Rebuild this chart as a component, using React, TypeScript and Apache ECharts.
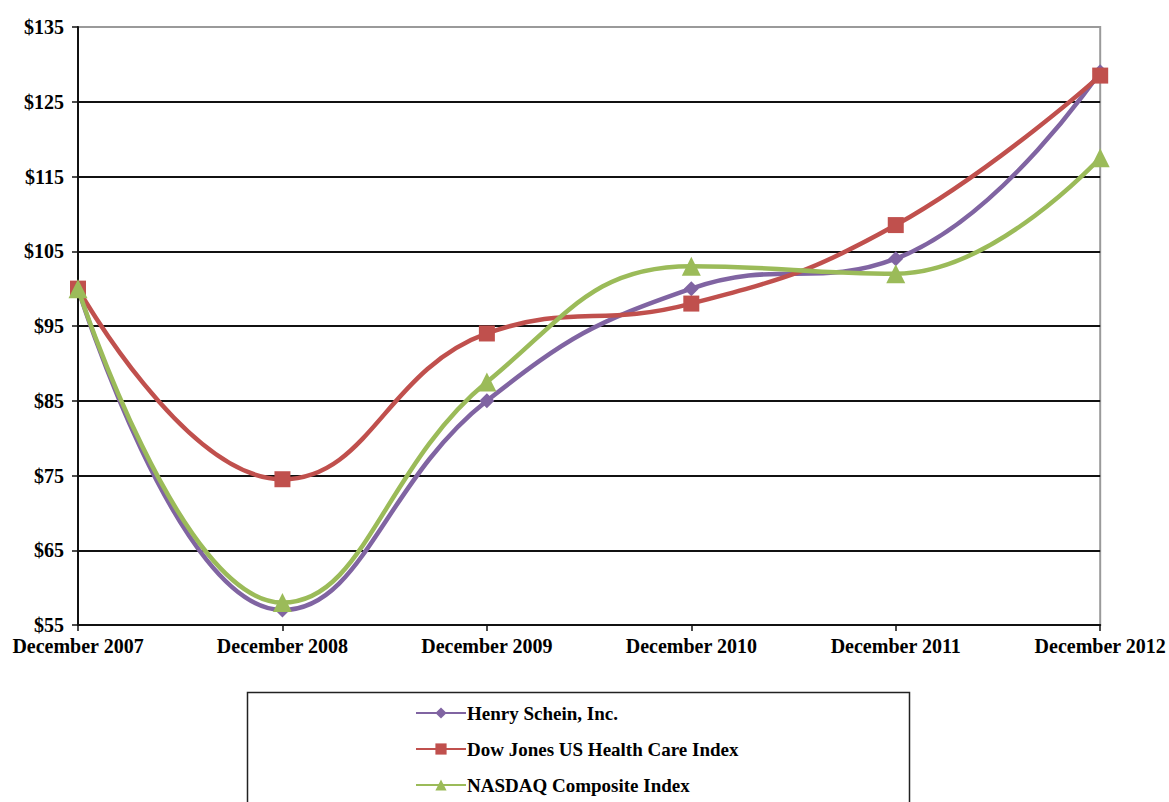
import React, { useEffect, useRef } from "react";
import * as echarts from "echarts";

const categories = ["December 2007", "December 2008", "December 2009", "December 2010", "December 2011", "December 2012"];
const henrySchein = [100, 57, 85, 100, 104, 129];
const dowJones = [100, 74.5, 94, 98, 108.5, 128.5];
const nasdaq = [100, 58, 87.5, 103, 102, 117.5];
const yTicks = [55, 65, 75, 85, 95, 105, 115, 125, 135];

const FONT = "'Liberation Serif', 'Times New Roman', serif";

export default function App() {
  const ref = useRef<HTMLDivElement>(null);
  useEffect(() => {
    if (!ref.current) return;
    const chart = echarts.init(ref.current, undefined, { renderer: "svg" });
    const mk = (name: string, data: number[], color: string, symbol: string, size: number) => ({
      name,
      type: "line",
      data,
      smooth: 0.45,
      symbol,
      symbolSize: size,
      showSymbol: true,
      lineStyle: { color, width: 4.5 },
      itemStyle: { color },
    });
    chart.setOption({
      animation: false,
      backgroundColor: "#fff",
      grid: {
        left: 78,
        right: 66,
        top: 27,
        bottom: 177,
        show: true,
        borderColor: "#9a9a9a",
        borderWidth: 2,
        backgroundColor: "transparent",
      },
      xAxis: {
        type: "category",
        data: categories,
        boundaryGap: false,
        axisLine: { lineStyle: { color: "#111", width: 2 } },
        axisTick: { show: true, length: 6, lineStyle: { color: "#111", width: 1.5 } },
        axisLabel: {
          color: "#000",
          fontFamily: FONT,
          fontWeight: "bold",
          fontSize: 20,
          margin: 11,
          interval: 0,
        },
        splitLine: { show: false },
      },
      yAxis: {
        type: "value",
        min: 55,
        max: 135,
        axisLine: { show: true, lineStyle: { color: "#111", width: 2 } },
        axisTick: { show: true, length: 6, customValues: yTicks, lineStyle: { color: "#111", width: 1.5 } },
        axisLabel: {
          color: "#000",
          fontFamily: FONT,
          fontWeight: "bold",
          fontSize: 20,
          margin: 14,
          customValues: yTicks,
          formatter: (v: number) => "$" + v,
        },
        splitLine: {
          show: true,
          lineStyle: {
            color: ["#111", "#111", "#111", "#111", "#111", "#111", "#111", "#111", "#9a9a9a"],
            width: 2,
          },
        },
      },
      legend: {
        orient: "vertical",
        left: 415,
        top: 703,
        height: 110,
        padding: 0,
        itemWidth: 50,
        itemHeight: 14,
        itemGap: 16,
        textStyle: {
          color: "#000",
          fontFamily: FONT,
          fontWeight: "bold",
          fontSize: 19,
          lineHeight: 20,
          padding: [0, 0, 0, -4],
        },
        data: ["Henry Schein, Inc.", "Dow Jones US Health Care Index", "NASDAQ Composite Index"],
      },
      graphic: [
        {
          type: "rect",
          left: 245,
          top: 690,
          shape: { width: 662, height: 130 },
          style: { fill: "none", stroke: "#222", lineWidth: 1.5 },
          z: -1,
        },
      ],
      series: [
        mk("Henry Schein, Inc.", henrySchein, "#8064A2", "diamond", 15),
        mk("Dow Jones US Health Care Index", dowJones, "#C0504D", "rect", 16),
        mk("NASDAQ Composite Index", nasdaq, "#9BBB59", "triangle", 19),
      ],
    });
    return () => chart.dispose();
  }, []);
  return (
    <div
      ref={ref}
      style={{ position: "fixed", left: 0, top: 0, width: 1169, height: 802, background: "#fff" }}
    />
  );
}
